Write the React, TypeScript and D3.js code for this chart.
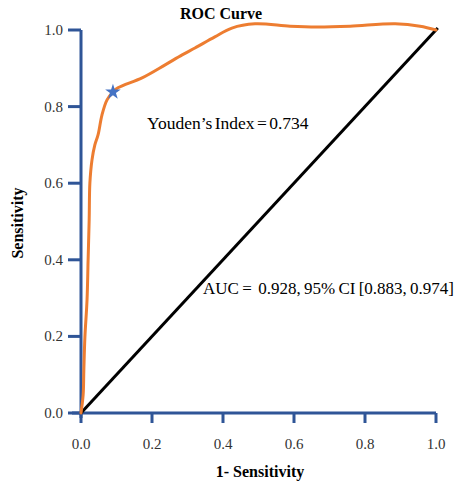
import React, { useEffect, useRef } from 'react';
import * as d3 from 'd3';

// ROC curve points (1 - specificity, sensitivity)
const fpr = [0, 0.006, 0.008, 0.011, 0.017, 0.02, 0.023, 0.025, 0.031, 0.039, 0.048, 0.059, 0.073, 0.09, 0.104, 0.172, 0.237, 0.285, 0.321, 0.377, 0.425, 0.49, 0.589, 0.665, 0.758, 0.885, 0.955, 1.0];
const tpr = [0, 0.047, 0.112, 0.198, 0.295, 0.399, 0.504, 0.6, 0.661, 0.7, 0.726, 0.778, 0.817, 0.838, 0.849, 0.875, 0.909, 0.935, 0.953, 0.982, 1.005, 1.016, 1.01, 1.008, 1.01, 1.016, 1.01, 1.0];
const youdenPoint = [0.09, 0.838];
const ticks = [0, 0.2, 0.4, 0.6, 0.8, 1.0];
const title = 'ROC Curve';
const xTitle = '1- Sensitivity';
const yTitle = 'Sensitivity';
const youdenLabel = 'Youden\u2019s Index = 0.734';
const aucLabel = 'AUC =  0.928, 95% CI [0.883, 0.974]';

export default function App() {
  const ref = useRef<SVGSVGElement>(null);

  useEffect(() => {
    const width = 454;
    const height = 486;
    const font = '"Liberation Serif", "Times New Roman", serif';
    const axisColor = '#2f5597';

    const svg = d3.select(ref.current);
    svg.selectAll('*').remove();
    svg.attr('width', width).attr('height', height).style('background', 'white');

    const x = d3.scaleLinear().domain([0, 1]).range([81, 436]);
    const y = d3.scaleLinear().domain([0, 1]).range([413, 30]);

    // axes (drawn by hand to get the thick blue look)
    const g = svg.append('g');
    g.append('line')
      .attr('x1', x(0) - 9).attr('x2', x(1))
      .attr('y1', y(0)).attr('y2', y(0))
      .attr('stroke', axisColor).attr('stroke-width', 3);
    g.append('line')
      .attr('x1', x(0)).attr('x2', x(0))
      .attr('y1', y(1)).attr('y2', y(0) + 5)
      .attr('stroke', axisColor).attr('stroke-width', 3);

    // x ticks
    g.selectAll('.xt')
      .data(ticks)
      .enter()
      .append('line')
      .attr('x1', d => x(d)).attr('x2', d => x(d))
      .attr('y1', y(0)).attr('y2', y(0) + 10)
      .attr('stroke', axisColor).attr('stroke-width', 3);
    g.selectAll('.xl')
      .data(ticks)
      .enter()
      .append('text')
      .attr('x', d => x(d))
      .attr('y', 449)
      .attr('text-anchor', 'middle')
      .style('font-family', font)
      .style('font-size', '15px')
      .attr('fill', '#333')
      .text(d => d.toFixed(1));

    // y ticks
    g.selectAll('.yt')
      .data(ticks)
      .enter()
      .append('line')
      .attr('x1', x(0) - 13).attr('x2', x(0))
      .attr('y1', d => y(d)).attr('y2', d => y(d))
      .attr('stroke', axisColor).attr('stroke-width', 3);
    g.selectAll('.yl')
      .data(ticks)
      .enter()
      .append('text')
      .attr('x', 63)
      .attr('y', d => y(d) + 5)
      .attr('text-anchor', 'end')
      .style('font-family', font)
      .style('font-size', '15px')
      .attr('fill', '#333')
      .text(d => d.toFixed(1));

    // reference diagonal
    svg.append('line')
      .attr('x1', x(0)).attr('y1', y(0))
      .attr('x2', x(1.005)).attr('y2', y(1.005))
      .attr('stroke', 'black').attr('stroke-width', 3);

    // roc curve
    const pts: [number, number][] = fpr.map((f, i) => [f, tpr[i]]);
    const line = d3.line<[number, number]>()
      .x(d => x(d[0]))
      .y(d => y(d[1]))
      .curve(d3.curveCatmullRom);
    svg.append('path')
      .attr('d', line(pts))
      .attr('fill', 'none')
      .attr('stroke', '#ed7d31')
      .attr('stroke-width', 3)
      .attr('stroke-linecap', 'round');

    // youden point star
    svg.append('path')
      .attr('d', d3.symbol().type(d3.symbolStar).size(75)())
      .attr('transform', `translate(${x(youdenPoint[0])}, ${y(youdenPoint[1])})`)
      .attr('fill', '#4472c4');

    // annotations
    svg.append('text')
      .attr('x', 147).attr('y', 129)
      .style('font-family', font).style('font-size', '17.5px')
      .style('word-spacing', '-2px')
      .text(youdenLabel);
    svg.append('text')
      .attr('x', 203).attr('y', 294)
      .style('font-family', font).style('font-size', '17px')
      .style('white-space', 'pre')
      .style('word-spacing', '-1px')
      .text(aucLabel);

    // titles
    svg.append('text')
      .attr('x', 221).attr('y', 19)
      .attr('text-anchor', 'middle')
      .style('font-family', font).style('font-size', '16px').style('font-weight', 'bold')
      .text(title);
    svg.append('text')
      .attr('x', 260).attr('y', 477)
      .attr('text-anchor', 'middle')
      .style('font-family', font).style('font-size', '16px').style('font-weight', 'bold')
      .text(xTitle);
    svg.append('text')
      .attr('transform', 'translate(23, 223) rotate(-90)')
      .attr('text-anchor', 'middle')
      .style('font-family', font).style('font-size', '16px').style('font-weight', 'bold')
      .text(yTitle);
  }, []);

  return <svg ref={ref} style={{ position: 'absolute', left: 0, top: 0 }}></svg>;
}
